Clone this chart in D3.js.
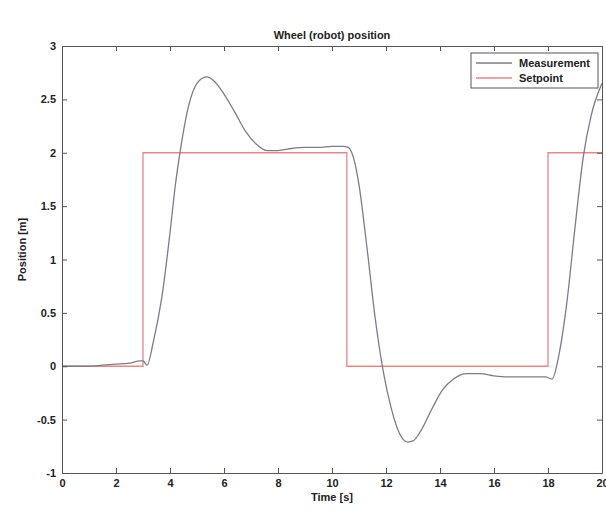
<!DOCTYPE html>
<html>
<head>
<meta charset="utf-8">
<script src="https://cdn.jsdelivr.net/npm/d3@7"></script>
<style>
  body { margin: 0; background: #fff; }
  text { font-family: "Liberation Sans", Arial, sans-serif; }
</style>
</head>
<body>
<script>
/*** data ***/
const timeMeasured = [0, 1, 1.5, 2, 2.5, 2.9, 3.0, 3.15, 3.4, 3.7, 4.0, 4.2, 4.4, 4.7, 5.0, 5.35, 5.6, 6.0, 6.4, 6.8, 7.2, 7.6, 8.0, 8.5, 9, 9.5, 10, 10.4, 10.6, 10.8, 11.0, 11.3, 11.6, 11.9, 12.2, 12.5, 12.8, 13.0, 13.3, 13.7, 14.1, 14.5, 15, 15.5, 16, 16.5, 17, 17.5, 17.9, 18.15, 18.4, 18.7, 19.0, 19.3, 19.6, 20];
const posMeasured  = [0, 0.0, 0.01, 0.02, 0.03, 0.05, 0.05, 0.01, 0.25, 0.65, 1.25, 1.7, 2.05, 2.45, 2.65, 2.71, 2.68, 2.55, 2.38, 2.2, 2.08, 2.02, 2.02, 2.04, 2.05, 2.05, 2.06, 2.06, 2.05, 1.95, 1.7, 1.1, 0.45, -0.05, -0.4, -0.63, -0.71, -0.7, -0.6, -0.4, -0.22, -0.12, -0.07, -0.07, -0.09, -0.1, -0.1, -0.1, -0.1, -0.12, 0.1, 0.6, 1.3, 1.95, 2.35, 2.65];

const setpointTime  = [0, 3, 10.55, 18, 20];
const setpointValue = [0, 2, 0, 2, 2];

const xTicks = [0, 2, 4, 6, 8, 10, 12, 14, 16, 18, 20];
const yTicks = [-1, -0.5, 0, 0.5, 1, 1.5, 2, 2.5, 3];

const seriesNames = ["Measurement", "Setpoint"];
const seriesColors = ["#7c7c88", "#ea8686"];

/*** layout ***/
const width = 606, height = 522;
const margin = { top: 46, right: 4, bottom: 49, left: 62 };

const svg = d3.select("body")
  .append("svg")
  .attr("width", width)
  .attr("height", height);

const x = d3.scaleLinear().domain([0, 20]).range([margin.left, width - margin.right]);
const y = d3.scaleLinear().domain([-1, 3]).range([height - margin.bottom, margin.top]);

svg.append("defs").append("clipPath").attr("id", "clip")
  .append("rect")
  .attr("x", x(0)).attr("y", y(3))
  .attr("width", x(20) - x(0)).attr("height", y(-1) - y(3));

const g = svg.append("g").attr("clip-path", "url(#clip)");

// setpoint (step)
const setpoint = setpointTime.map((t, i) => [t, setpointValue[i]]);
g.append("path")
  .datum(setpoint)
  .attr("fill", "none")
  .attr("stroke", seriesColors[1])
  .attr("stroke-width", 1.3)
  .attr("d", d3.line().x(d => x(d[0])).y(d => y(d[1])).curve(d3.curveStepAfter));

// measurement
const measured = timeMeasured.map((t, i) => [t, posMeasured[i]]);
g.append("path")
  .datum(measured)
  .attr("fill", "none")
  .attr("stroke", seriesColors[0])
  .attr("stroke-width", 1.3)
  .attr("d", d3.line().x(d => x(d[0])).y(d => y(d[1])).curve(d3.curveMonotoneX));

/*** axes, matlab style: ticks inside, on all four sides ***/
const fmt = d => String(d);
const axisColor = "#555";

function styleAxis(sel) {
  sel.select(".domain").attr("stroke", axisColor);
  sel.selectAll(".tick line").attr("stroke", axisColor);
  sel.selectAll(".tick text")
    .attr("fill", "#222")
    .style("font-size", "11px")
    .style("font-weight", "bold")
    .style("font-family", "'Liberation Sans', Arial, sans-serif");
}

svg.append("g")
  .attr("transform", `translate(0,${y(-1)})`)
  .call(d3.axisBottom(x).tickValues(xTicks).tickFormat(fmt).tickSizeInner(-5).tickSizeOuter(0).tickPadding(6))
  .call(styleAxis);

svg.append("g")
  .attr("transform", `translate(0,${y(3)})`)
  .call(d3.axisTop(x).tickValues(xTicks).tickFormat("").tickSizeInner(-5).tickSizeOuter(0))
  .call(styleAxis);

svg.append("g")
  .attr("transform", `translate(${x(0)},0)`)
  .call(d3.axisLeft(y).tickValues(yTicks).tickFormat(fmt).tickSizeInner(-5).tickSizeOuter(0).tickPadding(6))
  .call(styleAxis);

svg.append("g")
  .attr("transform", `translate(${x(20)},0)`)
  .call(d3.axisRight(y).tickValues(yTicks).tickFormat("").tickSizeInner(-5).tickSizeOuter(0))
  .call(styleAxis);

/*** titles ***/
const midX = (x(0) + x(20)) / 2;

svg.append("text")
  .attr("x", midX).attr("y", 39)
  .attr("text-anchor", "middle")
  .style("font-size", "11px")
  .style("font-weight", "bold")
  .attr("fill", "#222")
  .text("Wheel (robot) position");

svg.append("text")
  .attr("x", midX).attr("y", 501)
  .attr("text-anchor", "middle")
  .style("font-size", "11px")
  .style("font-weight", "bold")
  .attr("fill", "#222")
  .text("Time [s]");

svg.append("text")
  .attr("transform", `translate(26,${(y(3) + y(-1)) / 2 - 10}) rotate(-90)`)
  .attr("text-anchor", "middle")
  .style("font-size", "11px")
  .style("font-weight", "bold")
  .attr("fill", "#222")
  .text("Position [m]");

/*** legend ***/
const legend = svg.append("g").attr("transform", "translate(471,53)");

legend.append("rect")
  .attr("width", 127).attr("height", 35)
  .attr("fill", "#fff")
  .attr("stroke", axisColor);

legend.selectAll("line")
  .data(seriesNames)
  .join("line")
  .attr("x1", 5).attr("x2", 41)
  .attr("y1", (d, i) => 10 + i * 15).attr("y2", (d, i) => 10 + i * 15)
  .attr("stroke", (d, i) => seriesColors[i])
  .attr("stroke-width", 1.3);

legend.selectAll("text")
  .data(seriesNames)
  .join("text")
  .attr("x", 48)
  .attr("y", (d, i) => 10 + i * 15)
  .attr("dy", "0.35em")
  .style("font-size", "11px")
  .style("font-weight", "bold")
  .attr("fill", "#222")
  .text(d => d);
</script>
</body>
</html>
